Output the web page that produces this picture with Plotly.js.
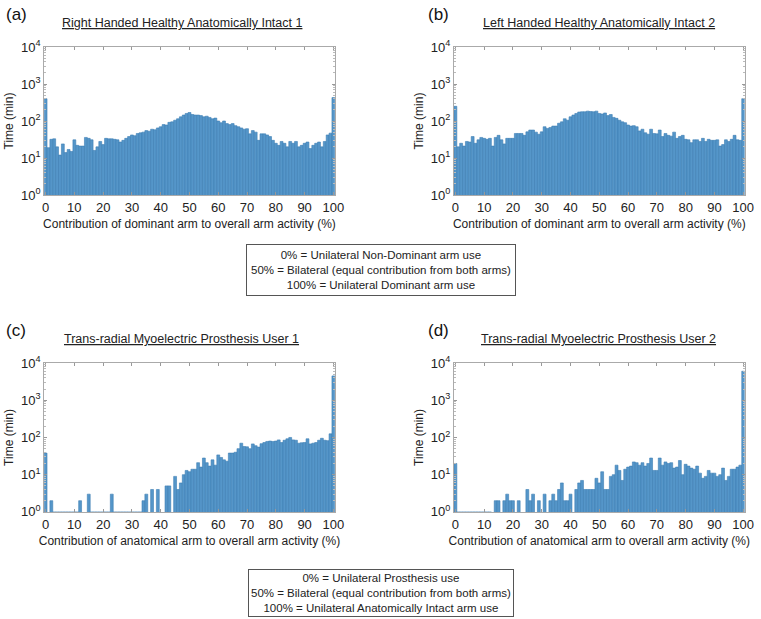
<!DOCTYPE html>
<html>
<head>
<meta charset="utf-8">
<script src="https://cdn.plot.ly/plotly-3.0.1.min.js"></script>
<style>
  html, body { margin: 0; padding: 0; background: #fff; }
  #c1 { width: 761px; height: 619px; }
</style>
</head>
<body>
<div id="c1"></div>
<script>
// contribution bins 0..100 %
var bins = [];
for (var i = 0; i <= 100; i++) bins.push(i);

// time in each bin (min)
var rightHanded1 = [
  400, 19, 32, 33, 20, 12, 24, 14, 17, 15,
  31, 22, 21, 21, 36, 34, 31, 16, 20, 28,
  23, 34, 33, 33, 32, 31, 27, 30, 34, 38,
  42, 40, 46, 48, 50, 55, 53, 60, 58, 65,
  70, 80, 78, 92, 95, 105, 115, 130, 145, 160,
  170, 150, 145, 145, 140, 130, 135, 125, 115, 120,
  100, 90, 100, 85, 80, 85, 75, 70, 65, 60,
  62, 45, 55, 50, 30, 45, 45, 42, 38, 30,
  25, 22, 28, 25, 20, 28, 25, 28, 20, 22,
  25, 27, 18, 22, 25, 27, 20, 28, 42, 47,
  430
];
var leftHanded2 = [
  250, 20, 25, 21, 28, 27, 38, 25, 31, 36,
  34, 32, 34, 21, 36, 41, 31, 24, 34, 34,
  34, 46, 46, 46, 41, 51, 57, 57, 50, 44,
  51, 70, 63, 67, 73, 73, 87, 95, 115, 105,
  130, 145, 160, 175, 178, 178, 185, 180, 178, 185,
  160, 155, 165, 140, 150, 125, 118, 105, 95, 90,
  78, 73, 75, 70, 54, 60, 48, 44, 60, 46,
  45, 57, 38, 46, 41, 39, 50, 34, 38, 41,
  32, 31, 26, 31, 31, 28, 34, 28, 32, 30,
  30, 31, 21, 23, 31, 28, 32, 41, 31, 30,
  400
];
var prosthesisUser1 = [
  38, 0, 2, 1, 1, 1, 1, 1, 1, 1,
  1, 1, 2, 0, 0, 3, 1, 1, 1, 1,
  1, 1, 1, 3, 1, 1, 1, 1, 1, 1,
  1, 1, 1, 1, 2, 3, 0, 4, 0, 4,
  0, 0, 5, 5, 0, 9, 4, 6, 10, 13,
  12, 14, 14, 21, 16, 28, 21, 17, 25, 18,
  34, 29, 25, 23, 38, 38, 40, 50, 70, 57,
  56, 50, 67, 60, 55, 68, 73, 78, 80, 78,
  80, 86, 73, 84, 92, 100, 86, 84, 70, 72,
  73, 92, 67, 70, 73, 84, 95, 84, 82, 125,
  4500
];
var prosthesisUser2 = [
  20, 1, 1, 1, 1, 1, 1, 1, 1, 1,
  1, 1, 1, 0, 2, 2, 0, 2, 3, 2,
  2, 0, 2, 0, 0, 4, 2, 3, 0, 2,
  0, 3, 0, 2, 3, 2, 4, 6, 2, 2,
  3, 0, 4, 6, 7, 4, 4, 4, 4, 8,
  6, 12, 4, 4, 9, 10, 18, 13, 7, 14,
  16, 17, 22, 21, 18, 21, 17, 20, 28, 13,
  13, 28, 18, 22, 20, 21, 15, 16, 24, 10,
  19, 17, 15, 14, 17, 11, 8, 9, 13, 11,
  11, 9, 10, 15, 7, 9, 14, 14, 16, 18,
  6000
];

var panelTitles = [
  'Right Handed Healthy Anatomically Intact 1',
  'Left Handed Healthy Anatomically Intact 2',
  'Trans-radial Myoelectric Prosthesis User 1',
  'Trans-radial Myoelectric Prosthesis User 2'
];
var panelLetters = ['(a)', '(b)', '(c)', '(d)'];
var xTitles = [
  'Contribution of dominant arm to overall arm activity (%)',
  'Contribution of anatomical arm to overall arm activity (%)'
];
var keyHealthy = [
  '0% = Unilateral Non-Dominant arm use',
  '50% = Bilateral (equal contribution from both arms)',
  '100% = Unilateral Dominant arm use'
];
var keyProsthesis = [
  '0% = Unilateral Prosthesis use',
  '50% = Bilateral (equal contribution from both arms)',
  '100% = Unilateral Anatomically Intact arm use'
];
var yTickVals = [1, 10, 100, 1000, 10000];
var yTickText = ['10<sup>0</sup>', '10<sup>1</sup>', '10<sup>2</sup>', '10<sup>3</sup>', '10<sup>4</sup>'];

var series = [rightHanded1, leftHanded2, prosthesisUser1, prosthesisUser2];
var fontFam = 'Liberation Sans, Arial, sans-serif';
var txtCol = '#222';

var data = [];
for (var k = 0; k < 4; k++) {
  var sfx = k == 0 ? '' : (k + 1);
  data.push({
    x: bins,
    y: series[k],
    type: 'bar',
    xaxis: 'x' + sfx,
    yaxis: 'y' + sfx,
    marker: { color: '#5596c9', line: { color: '#3d7db3', width: 0.6 } },
    hoverinfo: 'x+y'
  });
}

var xDom = [[0.058, 0.440], [0.5965, 0.9785]];
var yDom = [[0.685, 0.924], [0.173, 0.4136]];

function xAx(col, row) {
  return {
    domain: xDom[col],
    anchor: 'y' + (row * 2 + col == 0 ? '' : (row * 2 + col + 1)),
    range: [-0.5, 100.5],
    tickvals: [0, 10, 20, 30, 40, 50, 60, 70, 80, 90, 100],
    ticks: 'inside', ticklen: 3, tickcolor: '#999',
    showline: true, linecolor: '#aaa', linewidth: 1, mirror: 'ticks',
    showgrid: false, zeroline: false,
    tickfont: { family: fontFam, size: 13, color: txtCol },
    title: { text: xTitles[row], font: { family: fontFam, size: 12, color: txtCol }, standoff: 6 }
  };
}
function yAx(col, row) {
  return {
    domain: yDom[row],
    anchor: 'x' + (row * 2 + col == 0 ? '' : (row * 2 + col + 1)),
    type: 'log',
    range: [0, 4],
    tickvals: yTickVals, ticktext: yTickText,
    ticks: 'inside', ticklen: 3, tickcolor: '#999',
    minor: { ticks: 'inside', ticklen: 2, tickcolor: '#bbb', dtick: 'D1' },
    showline: true, linecolor: '#aaa', linewidth: 1, mirror: 'ticks',
    showgrid: false, zeroline: false,
    tickfont: { family: fontFam, size: 13, color: txtCol },
    title: { text: 'Time (min)', font: { family: fontFam, size: 12, color: txtCol }, standoff: 4 }
  };
}

var layout = {
  width: 761, height: 619,
  margin: { l: 0, r: 0, t: 0, b: 0 },
  paper_bgcolor: '#fff', plot_bgcolor: '#fff',
  showlegend: false,
  bargap: 0,
  font: { family: fontFam, color: txtCol },
  xaxis: xAx(0, 0), yaxis: yAx(0, 0),
  xaxis2: xAx(1, 0), yaxis2: yAx(1, 0),
  xaxis3: xAx(0, 1), yaxis3: yAx(0, 1),
  xaxis4: xAx(1, 1), yaxis4: yAx(1, 1),
  annotations: []
};

var titleX = [0.239, 0.787];
var titleY = [1 - 23 / 619, 1 - 339 / 619];
var letterX = [0.005, 0.560];
var letterY = [1 - 14 / 619, 1 - 330 / 619];
for (var k = 0; k < 4; k++) {
  var col = k % 2, row = Math.floor(k / 2);
  layout.annotations.push({
    xref: 'paper', yref: 'paper', x: titleX[col], y: titleY[row],
    xanchor: 'center', yanchor: 'middle',
    text: '<u>' + panelTitles[k] + '</u>', showarrow: false,
    font: { family: fontFam, size: 12.5, color: txtCol }
  });
  layout.annotations.push({
    xref: 'paper', yref: 'paper', x: letterX[col], y: letterY[row],
    xanchor: 'left', yanchor: 'middle',
    text: panelLetters[k], showarrow: false,
    font: { family: fontFam, size: 17, color: '#111' }
  });
}
layout.annotations.push({
  xref: 'paper', yref: 'paper', x: 0.5, y: 1 - 270 / 619,
  xanchor: 'center', yanchor: 'middle',
  text: keyHealthy.join('<br>'), showarrow: false,
  bordercolor: '#555', borderwidth: 1, borderpad: 4, bgcolor: '#fff',
  font: { family: fontFam, size: 11.5, color: txtCol }
});
layout.annotations.push({
  xref: 'paper', yref: 'paper', x: 0.5, y: 1 - 593 / 619,
  xanchor: 'center', yanchor: 'middle',
  text: keyProsthesis.join('<br>'), showarrow: false,
  bordercolor: '#555', borderwidth: 1, borderpad: 2, bgcolor: '#fff',
  font: { family: fontFam, size: 11.5, color: txtCol }
});

Plotly.newPlot('c1', data, layout, { displayModeBar: false, staticPlot: true });
</script>
</body>
</html>
